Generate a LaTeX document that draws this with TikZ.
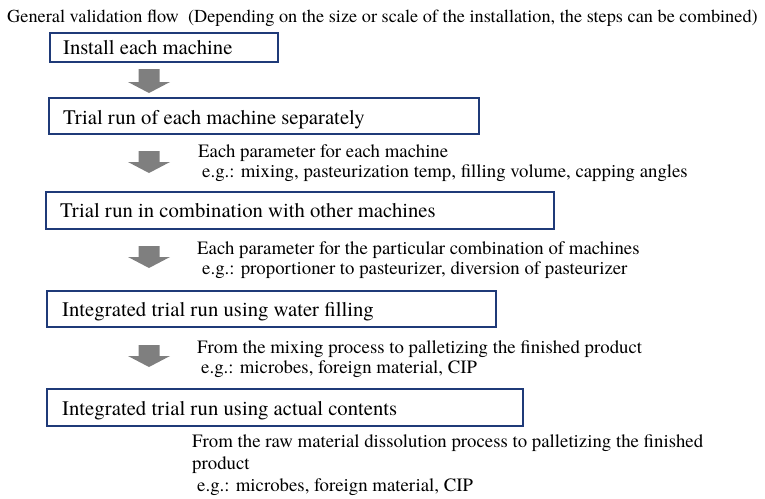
\documentclass[tikz,border=0pt]{standalone}
\usepackage{fontspec}
\setmainfont{TeX Gyre Termes}
\definecolor{boxblue}{HTML}{1F3A78}
\definecolor{arrgray}{HTML}{7F7F7F}
\newcommand{\dnarrow}[4]{%
  \fill[arrgray] (#1-10.5,#2) -- (#1+10.5,#2) -- (#1+10.5,#3) -- (#1+21,#3) -- (#1,#4) -- (#1-21,#3) -- (#1-10.5,#3) -- cycle;}
\begin{document}
\begin{tikzpicture}[x=1pt,y=-1pt,
  stepbox/.style={draw=boxblue,line width=1.6pt},
  boxtext/.style={anchor=base west,inner sep=0pt,font=\fontsize{20.7pt}{24pt}\selectfont},
  desctext/.style={anchor=base west,inner sep=0pt,font=\fontsize{18.8pt}{22pt}\selectfont},
  titletext/.style={anchor=base west,inner sep=0pt,font=\fontsize{18.3pt}{22pt}\selectfont}]
\useasboundingbox (0,0) rectangle (765,498);
\node[titletext] (title) at (7,22) {General validation flow\ \ (Depending on the size or scale of the installation, the steps can be combined)};
\draw[stepbox] (50,33) rectangle (278,62);
\node[boxtext] (b1) at (63,54.5) {Install each machine};
\draw[stepbox] (49,98) rectangle (479,134);
\node[boxtext] (b2) at (63,124) {Trial run of each machine separately};
\draw[stepbox] (46,192) rectangle (554,229);
\node[boxtext] (b3) at (60,217) {Trial run in combination with other machines};
\draw[stepbox] (47,291) rectangle (496,327);
\node[boxtext] (b4) at (62,316) {Integrated trial run using water filling};
\draw[stepbox] (47,389) rectangle (523,426);
\node[boxtext] (b5) at (62,415) {Integrated trial run using actual contents};
\dnarrow{149}{69}{82}{93}
\dnarrow{149}{151}{162}{173}
\dnarrow{149}{246}{257}{268}
\dnarrow{149}{345}{356}{367}
\node[desctext] (d1a) at (198,157) {Each parameter for each machine};
\node[desctext] (d1b) at (202,177) {e.g.: mixing, pasteurization temp, filling volume, capping angles};
\node[desctext] (d2a) at (197,254) {Each parameter for the particular combination of machines};
\node[desctext] (d2b) at (202,274) {e.g.: proportioner to pasteurizer, diversion of pasteurizer};
\node[desctext] (d3a) at (197,353) {From the mixing process to palletizing the finished product};
\node[desctext] (d3b) at (201,373) {e.g.: microbes, foreign material, CIP};
\node[desctext] (d4a) at (192,447) {From the raw material dissolution process to palletizing the finished};
\node[desctext] (d4b) at (192,469) {product};
\node[desctext] (d4c) at (197,491) {e.g.: microbes, foreign material, CIP};
\end{tikzpicture}
\end{document}
